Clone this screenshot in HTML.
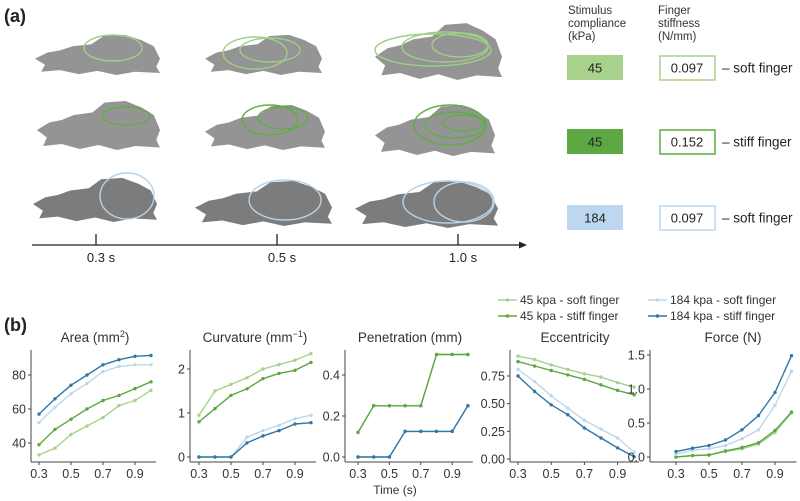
<!DOCTYPE html>
<html><head><meta charset="utf-8"><style>
html,body{margin:0;padding:0;background:#fff;}
svg{display:block;font-family:"Liberation Sans","DejaVu Sans",sans-serif;}
</style></head><body>
<svg id="fig" width="800" height="501" viewBox="0 0 800 501" xmlns="http://www.w3.org/2000/svg">
<text x="4" y="22" font-size="18" font-weight="bold" fill="#222">(a)</text>
<g id="imgs"></g>
<g>
<line x1="32" y1="245" x2="522" y2="245" stroke="#222" stroke-width="1.3"/>
<polygon points="527,245 519,241.5 519,248.5" fill="#222"/>
<line x1="96" y1="234" x2="96" y2="245" stroke="#222" stroke-width="1.3"/>
<line x1="277" y1="234" x2="277" y2="245" stroke="#222" stroke-width="1.3"/>
<line x1="458" y1="234" x2="458" y2="245" stroke="#222" stroke-width="1.3"/>
<text x="101" y="262" font-size="13" text-anchor="middle" fill="#222">0.3 s</text>
<text x="282" y="262" font-size="13" text-anchor="middle" fill="#222">0.5 s</text>
<text x="463" y="262" font-size="13" text-anchor="middle" fill="#222">1.0 s</text>
</g>
<g font-size="11.5" fill="#333">
<text x="568" y="14"><tspan x="568">Stimulus</tspan><tspan x="568" dy="13">compliance</tspan><tspan x="568" dy="13">(kPa)</tspan></text>
<text x="658" y="14"><tspan x="658">Finger</tspan><tspan x="658" dy="13">stiffness</tspan><tspan x="658" dy="13">(N/mm)</tspan></text>
<rect x="567" y="55" width="56" height="25" fill="#a9d18e"/>
<text x="595" y="72.5" font-size="13" text-anchor="middle" fill="#222">45</text>
<rect x="660" y="56" width="55" height="24" fill="#fff" stroke="#a9d18e" stroke-width="1.5"/>
<text x="687" y="72.5" font-size="13" text-anchor="middle" fill="#222">0.097</text>
<text x="722" y="72.5" font-size="13.5" fill="#222">– soft finger</text>
<rect x="567" y="129" width="56" height="25" fill="#5ea843"/>
<text x="595" y="146.5" font-size="13" text-anchor="middle" fill="#222">45</text>
<rect x="660" y="130" width="55" height="24" fill="#fff" stroke="#5ea843" stroke-width="1.5"/>
<text x="687" y="146.5" font-size="13" text-anchor="middle" fill="#222">0.152</text>
<text x="722" y="146.5" font-size="13.5" fill="#222">– stiff finger</text>
<rect x="567" y="205" width="56" height="25" fill="#bdd7ee"/>
<text x="595" y="222.5" font-size="13" text-anchor="middle" fill="#222">184</text>
<rect x="660" y="206" width="55" height="24" fill="#fff" stroke="#bdd7ee" stroke-width="1.5"/>
<text x="687" y="222.5" font-size="13" text-anchor="middle" fill="#222">0.097</text>
<text x="722" y="222.5" font-size="13.5" fill="#222">– soft finger</text>
</g>
<text x="4" y="331" font-size="18" font-weight="bold" fill="#222">(b)</text>
<g id="legend" font-size="12" fill="#333"></g>
<g id="charts"></g>
<text x="395" y="494" font-size="12" text-anchor="middle" fill="#333">Time (s)</text>
</svg>
<script>
const NS="http://www.w3.org/2000/svg";
const times=[0.3,0.4,0.5,0.6,0.7,0.8,0.9,1.0];
const seriesNames=["45 kpa - soft finger","45 kpa - stiff finger","184 kpa - soft finger","184 kpa - stiff finger"];
const seriesColors=["#a6d38b","#5da742","#bcd8ec","#2f77a5"];
const xTicks=[0.3,0.5,0.7,0.9];
const areaSoft45=[33,37,45,50,55,62,65,71];
const areaStiff45=[39,48,54,60,65,68,72,76];
const areaSoft184=[52,61,69,75,82,85,86,86];
const areaStiff184=[57,66,74,80,86,89,91,91.5];
const areaTicks=[40,60,80];
const curvSoft45=[0.95,1.5,1.65,1.8,2.0,2.1,2.2,2.35];
const curvStiff45=[0.8,1.1,1.4,1.55,1.78,1.9,1.97,2.15];
const curvSoft184=[0,0,0,0.45,0.6,0.72,0.87,0.95];
const curvStiff184=[0,0,0,0.32,0.48,0.6,0.75,0.78];
const curvTicks=[0,1,2];
const penSoft45=[0.12,0.25,0.25,0.25,0.25,0.5,0.5,0.5];
const penStiff45=[0.12,0.25,0.25,0.25,0.25,0.5,0.5,0.5];
const penSoft184=[0,0,0,0.125,0.125,0.125,0.125,0.25];
const penStiff184=[0,0,0,0.125,0.125,0.125,0.125,0.25];
const penTicks=[0.0,0.2,0.4];
const eccSoft45=[0.93,0.9,0.85,0.81,0.77,0.74,0.69,0.65];
const eccStiff45=[0.88,0.84,0.8,0.76,0.72,0.67,0.62,0.58];
const eccSoft184=[0.81,0.7,0.57,0.46,0.35,0.27,0.19,0.06];
const eccStiff184=[0.75,0.61,0.49,0.4,0.28,0.19,0.1,0.02];
const eccTicks=[0.00,0.25,0.50,0.75];
const forceSoft45=[0,0.02,0.03,0.08,0.12,0.19,0.36,0.65];
const forceStiff45=[0,0.02,0.03,0.09,0.14,0.21,0.39,0.66];
const forceSoft184=[0.04,0.1,0.12,0.17,0.27,0.4,0.76,1.26];
const forceStiff184=[0.08,0.13,0.17,0.25,0.4,0.61,0.95,1.49];
const forceTicks=[0.0,0.5,1.0,1.5];

function mk(t,a,p){const e=document.createElementNS(NS,t);for(const k in a)e.setAttribute(k,a[k]);if(p)p.appendChild(e);return e;}

const panels=[
 {name:"area",title:"Area (mm",sup:"2",tail:")",tx:95,ax:31,x03:39,dx:160,yv0:40,yp0:443,yv1:80,yp1:375,ticks:areaTicks,fmt:v=>v.toFixed(0),s:[areaSoft45,areaStiff45,areaSoft184,areaStiff184]},
 {name:"curvature",title:"Curvature (mm",sup:"−1",tail:")",tx:255,ax:190,x03:199,dx:160,yv0:0,yp0:457,yv1:2,yp1:369,ticks:curvTicks,fmt:v=>v.toFixed(0),s:[curvSoft45,curvStiff45,curvSoft184,curvStiff184]},
 {name:"penetration",title:"Penetration (mm)",sup:"",tail:"",tx:410,ax:345,x03:358,dx:157,yv0:0,yp0:457,yv1:0.4,yp1:375,ticks:penTicks,fmt:v=>v.toFixed(1),s:[penSoft45,penStiff45,penSoft184,penStiff184]},
 {name:"eccentricity",title:"Eccentricity",sup:"",tail:"",tx:575,ax:510,x03:518,dx:166,yv0:0,yp0:459,yv1:0.75,yp1:376,ticks:eccTicks,fmt:v=>v.toFixed(2),s:[eccSoft45,eccStiff45,eccSoft184,eccStiff184]},
 {name:"force",title:"Force (N)",sup:"",tail:"",tx:733,ax:650,x03:676,dx:165,yv0:0,yp0:457,yv1:1.5,yp1:355,ticks:forceTicks,fmt:v=>v.toFixed(1),s:[forceSoft45,forceStiff45,forceSoft184,forceStiff184]}
];
const charts=document.getElementById('charts');
panels.forEach(p=>{
 const g=mk('g',{},charts);
 
 
 const X=t=>p.x03+(t-0.3)*p.dx;
 const Y=v=>p.yp0+(v-p.yv0)*(p.yp1-p.yp0)/(p.yv1-p.yv0);
 const top=350,bot=462,right=X(1.0)+5;
 const tt=mk('text',{x:p.tx,y:342,'font-size':13.5,'text-anchor':'middle',fill:'#333'},g);
 
 
 tt.appendChild(document.createTextNode(p.title));
 if(p.sup){const s=mk('tspan',{dy:-5,'font-size':9},tt);s.textContent=p.sup;const t2=mk('tspan',{dy:5},tt);t2.textContent=p.tail;}
 mk('line',{x1:p.ax,y1:top,x2:p.ax,y2:bot,stroke:'#444','stroke-width':1},g);
 mk('line',{x1:p.ax,y1:bot,x2:right,y2:bot,stroke:'#444','stroke-width':1},g);
 p.ticks.forEach(v=>{const y=Y(v);
  mk('line',{x1:p.ax-3,y1:y,x2:p.ax,y2:y,stroke:'#444'},g);
  const t=mk('text',{x:p.ax-5,y:y+4.5,'font-size':12.5,'text-anchor':'end',fill:'#333'},g);
  
  
  t.textContent=p.fmt(v);});
 xTicks.forEach(v=>{const x=X(v);
  mk('line',{x1:x,y1:bot,x2:x,y2:bot+3,stroke:'#444'},g);
  const t=mk('text',{x:x,y:bot+16,'font-size':12.5,'text-anchor':'middle',fill:'#333'},g);
  
  
  t.textContent=v.toFixed(1);});
 p.s.forEach((arr,i)=>{
  const pts=arr.map((v,j)=>X(times[j]).toFixed(1)+','+Y(v).toFixed(1)).join(' ');
  const l=mk('polyline',{points:pts,fill:'none',stroke:seriesColors[i],'stroke-width':1.4},g);
  
  
  arr.forEach((v,j)=>{const c=mk('circle',{cx:X(times[j]),cy:Y(v),r:1.7,fill:seriesColors[i]},g);
   
   });
 });
});
const leg=document.getElementById('legend');
const lpos=[[498,300],[498,316],[648,300],[648,316]];
seriesNames.forEach((n,i)=>{
 const [x,y]=lpos[i];
 const e=mk('g',{},leg);
 
 
 mk('line',{x1:x,y1:y,x2:x+19,y2:y,stroke:seriesColors[i],'stroke-width':1.4},e);
 mk('circle',{cx:x+9.5,cy:y,r:1.7,fill:seriesColors[i]},e);
 const t=mk('text',{x:x+22,y:y+4},e);t.textContent=n;
});
const imgs=document.getElementById('imgs');
const blobs=[
 [35,160,34,75],[205,322,34,75],[375,502,22,80],
 [37,160,100,150],[205,325,104,150],[375,495,104,156],
 [33,157,177,222],[195,332,180,226],[355,498,180,228]];
const ells=[
 [[113,48,29,13,'#9fcf85']],[[270,50,30,12,'#9fcf85'],[255,53,32,16,'#9fcf85']],[[460,45,28,12,'#9fcf85'],[445,47,43,15,'#9fcf85'],[433,50,58,16,'#9fcf85']],
 [[126,116,24,9,'#5fae45']],[[283,118,25,11,'#5fae45'],[270,120,28,15,'#5fae45']],[[463,123,20,8,'#5fae45'],[455,125,30,13,'#5fae45'],[450,125,36,20,'#5fae45']],
 [[127,196,27,23,'#b7d3ea']],[[285,200,36,20,'#b7d3ea']],[[464,202,30,20,'#b7d3ea'],[448,202,45,21,'#b7d3ea']]];
blobs.forEach((b,i)=>{
 const [x0,x1,y0,y1]=b,w=x1-x0,h=y1-y0;
 const pts=[[0,0.6],[0.1,0.45],[0.2,0.4],[0.3,0.3],[0.45,0.25],[0.55,0.05],[0.72,0.02],[0.85,0.15],[0.95,0.3],[1,0.6],[0.97,0.8],[1,0.95],[0.8,0.92],[0.65,1],[0.5,0.9],[0.35,0.98],[0.2,0.88],[0.05,0.92],[0.08,0.75]];
 const g=mk('g',{},imgs);
 
 
 mk('polygon',{points:pts.map(q=>(x0+q[0]*w)+','+(y0+q[1]*h)).join(' '),fill:i>=6?'#7c7c7c':'#949494'},g);
 ells[i].forEach(e=>mk('ellipse',{cx:e[0],cy:e[1],rx:e[2],ry:e[3],fill:'none',stroke:e[4],'stroke-width':1.4},g));
});
</script>
</body></html>
